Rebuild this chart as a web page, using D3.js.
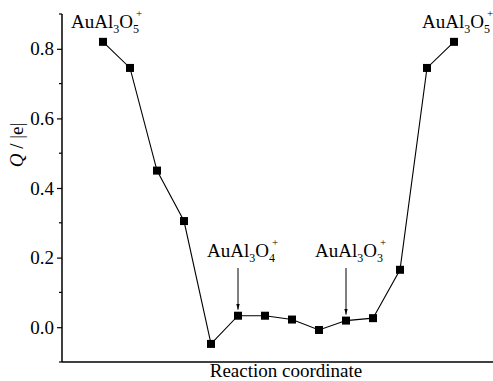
<!DOCTYPE html>
<html>
<head>
<meta charset="utf-8">
<script src="https://cdn.jsdelivr.net/npm/d3@7"></script>
<style>
  body { margin: 0; background: #fff; }
  text { font-family: "Liberation Serif", "Times New Roman", serif; fill: #000; }
</style>
</head>
<body>
<svg id="chart" width="493" height="381"></svg>
<script>
// reaction path steps and charge Q / |e|
const steps = [0, 1, 2, 3, 4, 5, 6, 7, 8, 9, 10, 11, 12, 13];
const charges = [0.82, 0.745, 0.45, 0.305, -0.048, 0.033, 0.033, 0.022, -0.008, 0.019, 0.026, 0.165, 0.745, 0.82];
const majorTicks = [0.0, 0.2, 0.4, 0.6, 0.8];
const minorTicks = [-0.1, 0.1, 0.3, 0.5, 0.7, 0.9];
// species labels: step index, oxygen count, arrow or not
const species = [
  {step: 0, o: '5', arrow: false},
  {step: 5, o: '4', arrow: true},
  {step: 9, o: '3', arrow: true},
  {step: 13, o: '5', arrow: false}
];

const svg = d3.select('#chart');
const margin = {left: 62, top: 14, bottom: 362};
const fs = 19;

const x = d3.scaleLinear().domain([0, 13]).range([103, 454]);
const y = d3.scaleLinear().domain([-0.1, 0.9]).range([margin.bottom, margin.top]);

// axes
const yAxis = svg.append('g').attr('transform', `translate(${margin.left},0)`)
  .call(d3.axisLeft(y).tickValues(majorTicks).tickFormat(d3.format('.1f')).tickSize(5).tickSizeOuter(0));
yAxis.select('.domain').remove();
yAxis.selectAll('line').attr('stroke', '#000').attr('stroke-width', 1.2);
yAxis.selectAll('text')
  .style('font-size', fs + 'px')
  .style('font-family', '"Liberation Serif", serif')
  .attr('fill', '#000')
  .attr('x', -8);

svg.append('g').attr('transform', `translate(${margin.left},0)`)
  .selectAll('line').data(minorTicks).join('line')
  .attr('x1', -3).attr('x2', 0)
  .attr('y1', d => y(d)).attr('y2', d => y(d))
  .attr('stroke', '#000').attr('stroke-width', 1.2);

svg.append('line')
  .attr('x1', margin.left).attr('x2', margin.left)
  .attr('y1', y(0.9)).attr('y2', margin.bottom)
  .attr('stroke', '#000').attr('stroke-width', 1.5);
svg.append('line')
  .attr('x1', margin.left).attr('x2', 493)
  .attr('y1', margin.bottom).attr('y2', margin.bottom)
  .attr('stroke', '#000').attr('stroke-width', 1.5);

// axis titles
svg.append('text')
  .attr('x', 286).attr('y', 377)
  .attr('text-anchor', 'middle')
  .style('font-size', fs + 'px')
  .text('Reaction coordinate');

const yt = svg.append('text')
  .attr('transform', 'translate(23,145) rotate(-90)')
  .attr('text-anchor', 'middle')
  .style('font-size', fs + 'px');
yt.append('tspan').style('font-style', 'italic').text('Q');
yt.append('tspan').text(' / |e|');

// line + markers
const line = d3.line().x((d, i) => x(steps[i])).y(d => y(d));
svg.append('path')
  .attr('d', line(charges))
  .attr('fill', 'none')
  .attr('stroke', '#000')
  .attr('stroke-width', 1.1);

svg.selectAll('.pt').data(charges).join('rect')
  .attr('class', 'pt')
  .attr('x', (d, i) => x(steps[i]) - 4)
  .attr('y', d => y(d) - 4)
  .attr('width', 8).attr('height', 8)
  .attr('fill', '#000');

// species labels
svg.append('defs').append('marker')
  .attr('id', 'arrowhead')
  .attr('viewBox', '0 0 10 10')
  .attr('refX', 10).attr('refY', 5)
  .attr('markerWidth', 6).attr('markerHeight', 7)
  .attr('orient', 'auto')
  .attr('markerUnits', 'userSpaceOnUse')
  .append('path').attr('d', 'M0,2 L10,5 L0,8 Z').attr('fill', '#000');

function formula(g, xs, ys, o) {
  const t = g.append('text').attr('x', xs).attr('y', ys).style('font-size', fs + 'px');
  t.append('tspan').text('AuAl');
  t.append('tspan').attr('dy', 5).style('font-size', '12px').text('3');
  t.append('tspan').attr('dy', -5).text('O');
  t.append('tspan').attr('dy', 5).style('font-size', '12px').text(o);
  t.append('tspan').attr('dy', -16).attr('dx', -3).style('font-size', '11px').text('+');
}

const lab = svg.append('g');
species.forEach(s => {
  const px = x(steps[s.step]);
  if (s.arrow) {
    formula(lab, px - 31, 257, s.o);
    lab.append('line')
      .attr('x1', px).attr('x2', px)
      .attr('y1', 268).attr('y2', y(charges[s.step]) - 6)
      .attr('stroke', '#000').attr('stroke-width', 1)
      .attr('marker-end', 'url(#arrowhead)');
  } else {
    formula(lab, px - 32, 28, s.o);
  }
});
</script>
</body>
</html>
